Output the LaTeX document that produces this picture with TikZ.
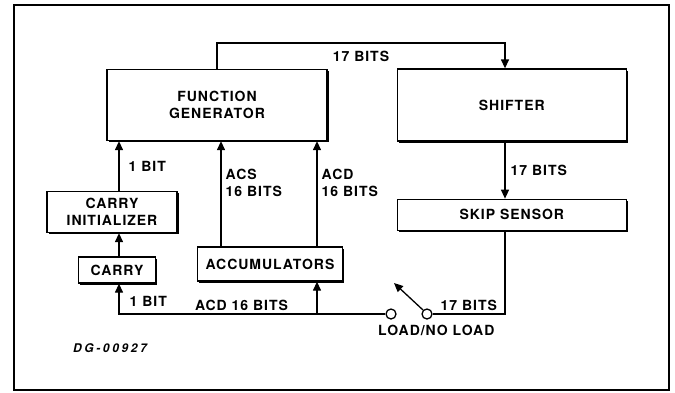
\documentclass[tikz,border=0pt]{standalone}
\usepackage{fontspec}
\setsansfont{TeX Gyre Heros}[LetterSpace=7]
\newfontfamily\dgfont{TeX Gyre Heros}[LetterSpace=22]
\usetikzlibrary{arrows.meta, positioning, shadows}

\tikzset{
  unit/.style={draw, line width=1.3pt, fill=white, align=center, inner sep=2pt,
    drop shadow={shadow xshift=1.6pt, shadow yshift=-1.6pt, fill=black, opacity=1}},
  flow/.style={line width=1.3pt, -{Triangle[length=9pt, width=8pt]}},
  wire/.style={line width=1.3pt},
  lbl/.style={font=\sffamily\bfseries\fontsize{14}{17}\selectfont, align=left, inner sep=2pt},
  contact/.style={circle, draw, line width=1.3pt, fill=white, minimum size=10pt, inner sep=0pt}
}

\begin{document}
\begin{tikzpicture}[x=1pt, y=-1pt, font=\sffamily\bfseries\fontsize{14}{17}\selectfont]
  \useasboundingbox (0,0) rectangle (675,392);
  \draw[line width=2.6pt] (14,5) rectangle (669,390);

  % blocks
  \node[unit, minimum width=220pt, minimum height=71pt] (fg) at (217,105) {FUNCTION\\GENERATOR};
  \node[unit, minimum width=229pt, minimum height=72pt] (shifter) [right=69pt of fg] {SHIFTER};
  \node[unit, minimum width=229pt, minimum height=31pt] (skip) [below=57pt of shifter] {SKIP SENSOR};
  \node[unit, minimum width=130pt, minimum height=41pt] (cinit) at (112,212) {CARRY\\INITIALIZER};
  \node[unit, minimum width=77pt, minimum height=26pt] (carry) at (117,270) {CARRY};
  \node[unit, minimum width=145pt, minimum height=34pt] (acc) at (270,264) {ACCUMULATORS};

  % taps and switch
  \coordinate (bus) at (217,43);
  \coordinate (tap) at (505,0);
  \coordinate (acs) at (221,0);
  \coordinate (acd) at (317,0);
  \coordinate (c1) at (119,0);
  \node[contact] (swL) at (391,314) {};
  \node[contact] (swR) at (427,314) {};
  \coordinate (arm) at (394,283);
  \node[lbl, anchor=north west] (loadlbl) at ([xshift=-15pt, yshift=-3pt]swL.south) {LOAD/NO LOAD};
  \node[font=\dgfont\bfseries\itshape\fontsize{12}{14}\selectfont] (dg) at (110,348) {DG-00927};

  \draw[flow] (fg.north -| bus) -- (bus) -| node[lbl, pos=0.25, below=5pt] {17 BITS} (shifter.north -| tap);
  \draw[flow] (shifter.south -| tap) -- node[lbl, right=3pt] {17 BITS} (skip.north -| tap);
  \draw[wire] (skip.south -| tap) |- node[lbl, pos=0.75, above=1pt] {17 BITS} (swR.east);
  \draw[flow] (swR.135) -- (arm);
  \draw[flow] (swL.west) -| node[lbl, pos=0.27, above=1pt] {ACD 16 BITS}
                            node[lbl, pos=0.75, right=8pt, yshift=-3pt] {1 BIT} (carry.south -| c1);
  \draw[flow] (swL -| acd) -- (acc.south -| acd);
  \draw[flow] (carry.north -| c1) -- (cinit.south -| c1);
  \draw[flow] (cinit.north -| c1) -- node[lbl, right=7pt] {1 BIT} (fg.south -| c1);
  \draw[flow] (acc.north -| acs) -- node[lbl, pos=0.6, right=2pt] {ACS\\16 BITS} (fg.south -| acs);
  \draw[flow] (acc.north -| acd) -- node[lbl, pos=0.6, right=2pt] {ACD\\16 BITS} (fg.south -| acd);
\end{tikzpicture}
\end{document}
